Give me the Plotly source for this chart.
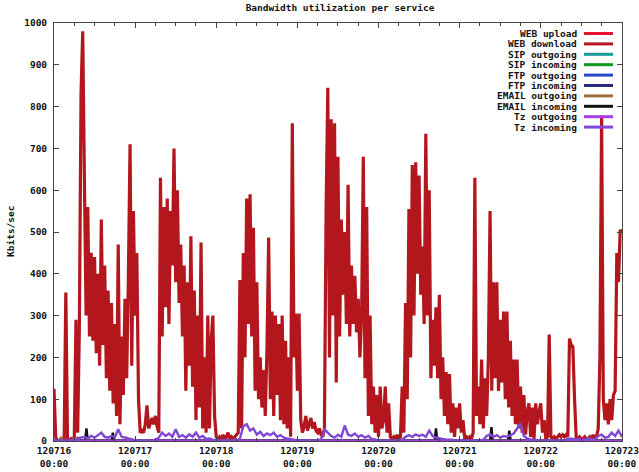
import pandas as pd
import plotly.graph_objects as go

# ---------------- data ----------------
START = "2012-07-16 00:00"
STEP_MIN = 30  # WEB download samples every 30 minutes

WEB_DOWNLOAD = [
    # 120716
    125, 10, 0, 0, 5, 0, 0, 355, 0, 0, 5, 0, 10, 290, 20, 270, 830, 980, 620, 300,
    560, 250, 450, 240, 440, 210, 400, 180, 530, 230, 420, 150, 360, 120, 330, 90, 280, 60, 470, 40,
    250, 110, 340, 150, 390, 710, 180, 550,
    # 120717
    300, 450, 100, 20, 25, 20, 40, 85, 30, 40, 55, 40, 60, 35, 20, 630, 250, 560, 320, 580,
    280, 550, 420, 700, 380, 600, 330, 470, 250, 420, 120, 380, 180, 490, 130, 360, 50, 300, 80, 475,
    30, 200, 20, 300, 30, 240, 300, 60,
    # 120718
    10, 5, 10, 5, 15, 5, 10, 20, 5, 10, 5, 10, 15, 20, 385, 30, 450, 200, 580, 280,
    590, 250, 510, 120, 380, 100, 200, 80, 170, 60, 220, 487, 100, 310, 60, 300, 110, 280, 50, 300,
    40, 240, 30, 200, 10, 760, 200, 305,
    # 120719
    120, 305, 50, 20, 35, 60, 25, 40, 55, 30, 45, 25, 20, 30, 15, 10, 30, 553, 845, 200,
    770, 300, 760, 140, 680, 250, 530, 350, 500, 280, 613, 250, 420, 280, 395, 260, 340, 200, 300, 680,
    150, 560, 60, 300, 40, 130, 20, 110,
    # 120720
    10, 130, 30, 50, 130, 20, 90, 10, 5, 10, 5, 15, 5, 10, 130, 20, 330, 100, 555, 200,
    660, 300, 667, 400, 635, 350, 465, 280, 735, 300, 600, 150, 290, 180, 320, 150, 350, 100, 200, 60,
    165, 40, 160, 20, 90, 10, 80, 30,
    # 120721
    90, 20, 50, 5, 10, 5, 10, 5, 20, 630, 60, 130, 40, 195, 30, 150, 60, 200, 550, 120,
    380, 150, 380, 120, 290, 140, 310, 100, 310, 80, 240, 60, 195, 40, 195, 30, 130, 20, 110, 15,
    70, 90, 10, 80, 5, 90, 40, 70,
    # 120722
    90, 20, 50, 5, 10, 255, 10, 5, 10, 5, 10, 15, 10, 15, 10, 15, 10, 245, 230, 225,
    100, 5, 5, 10, 5, 5, 10, 5, 5, 10, 5, 15, 5, 10, 30, 200, 778, 100, 50, 90,
    40, 100, 50, 110, 120, 450, 380, 505,
    # 120723 00:00
    500,
]

# Tz incoming, hourly samples
TZ_IN_HOURLY = [
    0, 0, 2, 0, 0, 2, 4, 6, 8, 10, 6, 12, 8, 14, 20, 10, 8, 12, 9, 28, 10, 8, 6, 4,
    2, 0, 0, 2, 0, 0, 3, 8, 20, 12, 18, 10, 28, 10, 14, 8, 16, 10, 20, 8, 12, 5, 6, 3,
    0, 0, 2, 0, 0, 2, 0, 6, 35, 40, 25, 30, 15, 22, 12, 18, 14, 20, 10, 14, 8, 6, 4, 3,
    2, 0, 0, 2, 0, 0, 2, 4, 28, 20, 12, 8, 15, 10, 37, 15, 12, 18, 10, 14, 8, 12, 5, 4,
    2, 0, 0, 2, 0, 0, 0, 3, 10, 14, 10, 16, 12, 15, 10, 25, 12, 8, 6, 5, 4, 3, 2, 2,
    2, 0, 0, 0, 2, 0, 0, 3, 12, 16, 10, 14, 8, 12, 10, 14, 18, 30, 42, 12, 6, 4, 3, 2,
    2, 0, 0, 2, 0, 0, 0, 2, 5, 6, 4, 5, 3, 4, 6, 5, 4, 12, 15, 8, 10, 20, 12, 25,
    10,
]

# sparse series: hours since start and values
EMAIL_IN_HOURS = [0, 9.2, 9.6, 10.0, 17.0, 17.4, 17.8, 112.6, 113.0, 113.4, 129.0, 129.4, 129.8, 134.3, 134.7, 135.1, 168]
EMAIL_IN_VALUES = [0, 0, 30, 0, 0, 20, 0, 0, 30, 0, 0, 33, 0, 0, 25, 0, 0]
EMAIL_OUT_HOURS = [0, 1.9, 2.2, 2.5, 6.7, 7.0, 7.3, 21.0, 21.3, 21.6, 168]
EMAIL_OUT_VALUES = [0, 0, 10, 0, 0, 10, 0, 0, 10, 0, 0]
DAY_HOURS = [0, 24, 48, 72, 96, 120, 144, 168]
WEB_UPLOAD = [0, 0, 0, 0, 0, 0, 0, 0]
SIP_OUT = [0, 0, 0, 0, 0, 0, 0, 0]
SIP_IN = [0, 0, 0, 0, 0, 0, 0, 0]
FTP_OUT = [0, 0, 0, 0, 0, 0, 0, 0]
FTP_IN = [0, 0, 0, 0, 0, 0, 0, 0]
TZ_OUT = [0, 0, 0, 0, 0, 0, 0, 0]

DAY_LABELS = ["120716", "120717", "120718", "120719", "120720", "120721", "120722", "120723"]
TIME_LABEL = "00:00"

SERIES_NAMES = ["WEB upload", "WEB download", "SIP outgoing", "SIP incoming", "FTP outgoing",
                "FTP incoming", "EMAIL outgoing", "EMAIL incoming", "Tz outgoing", "Tz incoming"]
COLORS = ["#e8142c", "#b3161c", "#1a9c9c", "#0c9a22", "#2448c8",
          "#262a78", "#a0703c", "#111111", "#a43ee0", "#8048d4"]
WIDTHS = [3.2, 3.2, 3.0, 3.0, 3.0, 3.0, 2.4, 2.4, 3.0, 2.4]

# ---------------- build ----------------
t0 = pd.Timestamp(START)
def at_hours(hs):
    return [t0 + pd.Timedelta(hours=h) for h in hs]

t_dl = [t0 + pd.Timedelta(minutes=STEP_MIN * i) for i in range(len(WEB_DOWNLOAD))]
t_tz = [t0 + pd.Timedelta(hours=i) for i in range(len(TZ_IN_HOURLY))]
t_day = at_hours(DAY_HOURS)

series = [
    (t_day, WEB_UPLOAD),
    (t_dl, WEB_DOWNLOAD),
    (t_day, SIP_OUT),
    (t_day, SIP_IN),
    (t_day, FTP_OUT),
    (t_day, FTP_IN),
    (at_hours(EMAIL_OUT_HOURS), EMAIL_OUT_VALUES),
    (at_hours(EMAIL_IN_HOURS), EMAIL_IN_VALUES),
    (t_day, TZ_OUT),
    (t_tz, TZ_IN_HOURLY),
]

FONT = "DejaVu Sans Mono"
fig = go.Figure()
for (xs, ys), name, col, w in zip(series, SERIES_NAMES, COLORS, WIDTHS):
    fig.add_trace(go.Scatter(x=xs, y=ys, mode="lines", name=name,
                             line=dict(color=col, width=w), showlegend=False))

# plot area in pixels
W, H = 639, 472
L, R, T, B = 54, 17, 23, 31
pw, ph = W - L - R, H - T - B

def px(x):
    return (x - L) / pw
def py(y):
    return (H - B - y) / ph

# custom gnuplot-like legend (text, then line sample)
row0, rowstep = 33.5, 10.4
for i, (name, col) in enumerate(zip(SERIES_NAMES, COLORS)):
    yy = row0 + i * rowstep
    fig.add_annotation(x=px(579), y=py(yy), xref="paper", yref="paper", text=name,
                       showarrow=False, xanchor="right", yanchor="middle",
                       font=dict(family=FONT, size=9.5, color="#111", weight="bold"))
    fig.add_shape(type="line", xref="paper", yref="paper", x0=px(584), x1=px(613),
                  y0=py(yy), y1=py(yy), line=dict(color=col, width=3))

fig.add_annotation(x=px(10), y=0.5, xref="paper", yref="paper", text="Kbits/sec",
                   showarrow=False, textangle=-90, xanchor="center", yanchor="middle",
                   font=dict(family=FONT, size=9.5, color="#111", weight="bold"))

ticktext = [f"{d}<br>{TIME_LABEL}" for d in DAY_LABELS]
x_end = t_day[-1] + pd.Timedelta(minutes=2)
fig.update_layout(
    width=W, height=H,
    margin=dict(l=L, r=R, t=T, b=B, autoexpand=False),
    paper_bgcolor="white", plot_bgcolor="white",
    title=dict(text="Bandwidth utilization per service", x=px(340), xref="paper",
               y=1 - 8 / H, yref="container", xanchor="center", yanchor="middle",
               font=dict(family=FONT, size=9.5, color="#111", weight="bold")),
    xaxis=dict(type="date", range=[t_day[0], x_end], tickvals=t_day, ticktext=ticktext,
               automargin=False, ticklabelstandoff=1, ticklabeloverflow="allow",
               showgrid=False, zeroline=False, showline=True, linecolor="#444", linewidth=1,
               mirror="ticks", ticks="inside", ticklen=5, tickcolor="#444",
               minor=dict(dtick=6 * 3600 * 1000, ticks="inside", ticklen=3, tickcolor="#444",
                          showgrid=False),
               tickfont=dict(family=FONT, size=9.5, color="#111", weight="bold")),
    yaxis=dict(range=[0, 1000], dtick=100, showgrid=False, zeroline=False, showline=True,
               automargin=False,
               linecolor="#444", linewidth=1, mirror="ticks", ticks="inside", ticklen=5,
               tickcolor="#444", ticklabelstandoff=4,
               tickfont=dict(family=FONT, size=9.5, color="#111", weight="bold")),
)

fig.write_html("out.html")
